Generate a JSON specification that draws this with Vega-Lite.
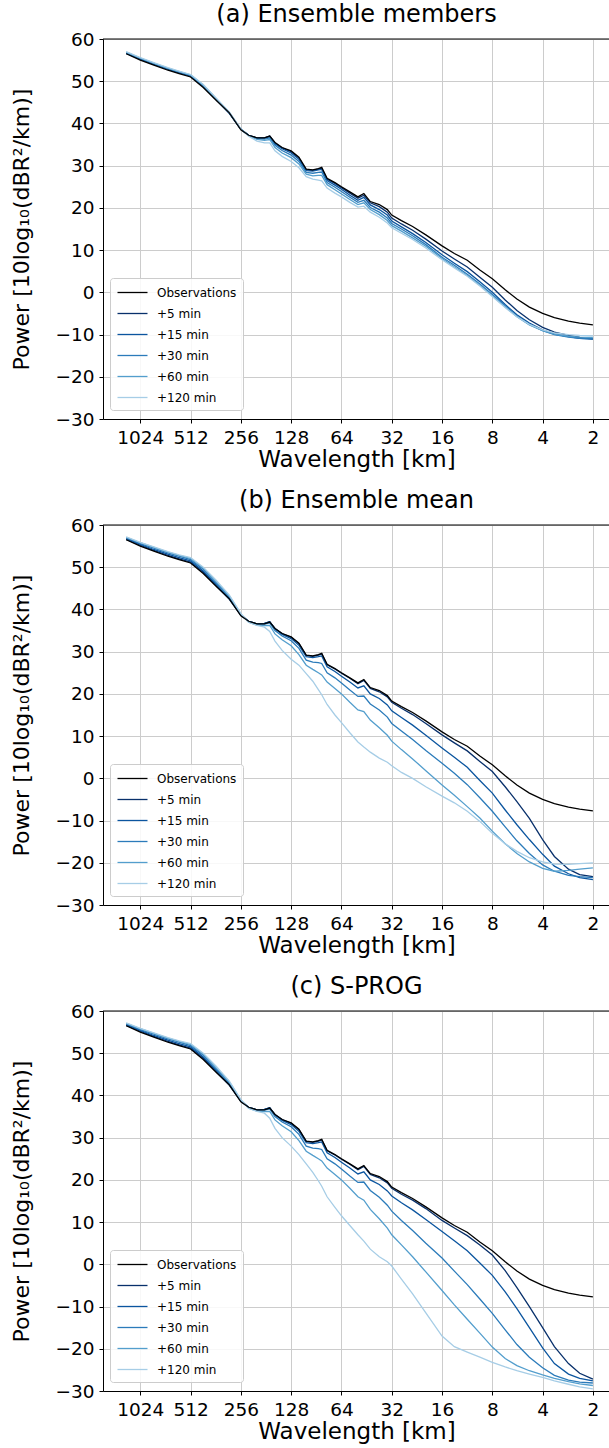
{
"$schema": "https://vega.github.io/schema/vega-lite/v6.json",
"padding": {"left": 10, "top": 3, "right": 0, "bottom": 0},
"background": "white",
"config": {
  "font": "DejaVu Sans",
  "view": {"stroke": null},
  "axis": {"labelFont": "DejaVu Sans", "titleFont": "DejaVu Sans", "labelFontSize": 18.5, "titleFontSize": 23, "titleFontWeight": "normal", "labelColor": "#000", "titleColor": "#000", "domainColor": "#000", "tickColor": "#000", "tickSize": 4, "gridColor": "#cccccc", "gridWidth": 1, "labelPadding": 5, "domainWidth": 1, "labelFlush": false, "labelOverlap": false},
  "axisY": {"titlePadding": 21, "titleFontSize": 22},
  "axisX": {"titlePadding": 2},
  "title": {"font": "DejaVu Sans", "fontSize": 24, "fontWeight": "normal", "color": "#000", "offset": 3},
  "legend": {"title": null, "orient": "none", "legendX": 7, "legendY": 239, "fillColor": "rgba(255,255,255,0.85)", "strokeColor": "#cccccc", "cornerRadius": 3, "padding": 6, "symbolType": "M-2,0H2", "symbolSize": 225, "symbolOffset": 8, "symbolStrokeWidth": 1.5, "labelFontSize": 12, "labelFont": "DejaVu Sans", "labelColor": "#000", "rowPadding": 6, "labelOffset": 16},
  "concat": {"spacing": 17},
  "line": {"strokeWidth": 1.3}
},
"resolve": {"scale": {"color": "independent"}, "legend": {"color": "independent"}},
"datasets": {
"obs": [
{"p":"o","s":"Observations","w":1243,"v":56.5},{"p":"o","s":"Observations","w":1024,"v":55.0},{"p":"o","s":"Observations","w":850,"v":53.8},{"p":"o","s":"Observations","w":700,"v":52.6},{"p":"o","s":"Observations","w":600,"v":51.8},{"p":"o","s":"Observations","w":512,"v":51.0},{"p":"o","s":"Observations","w":430,"v":48.5},{"p":"o","s":"Observations","w":360,"v":45.5},{"p":"o","s":"Observations","w":300,"v":42.5},{"p":"o","s":"Observations","w":256,"v":38.5},{"p":"o","s":"Observations","w":230,"v":37.2},{"p":"o","s":"Observations","w":205,"v":36.6},{"p":"o","s":"Observations","w":185,"v":36.6},{"p":"o","s":"Observations","w":172,"v":37.0},{"p":"o","s":"Observations","w":160,"v":35.5},{"p":"o","s":"Observations","w":145,"v":34.3},{"p":"o","s":"Observations","w":128,"v":33.5},{"p":"o","s":"Observations","w":115,"v":32.0},{"p":"o","s":"Observations","w":104,"v":29.2},{"p":"o","s":"Observations","w":95,"v":29.0},{"p":"o","s":"Observations","w":88,"v":29.3},{"p":"o","s":"Observations","w":84,"v":29.6},{"p":"o","s":"Observations","w":78,"v":27.0},{"p":"o","s":"Observations","w":70,"v":26.0},{"p":"o","s":"Observations","w":64,"v":25.0},{"p":"o","s":"Observations","w":57,"v":23.8},{"p":"o","s":"Observations","w":51,"v":22.6},{"p":"o","s":"Observations","w":47,"v":23.4},{"p":"o","s":"Observations","w":43,"v":21.5},{"p":"o","s":"Observations","w":38,"v":20.8},{"p":"o","s":"Observations","w":34,"v":19.6},{"p":"o","s":"Observations","w":32,"v":18.3},{"p":"o","s":"Observations","w":28,"v":17.0},{"p":"o","s":"Observations","w":24,"v":15.6},{"p":"o","s":"Observations","w":20,"v":13.6},{"p":"o","s":"Observations","w":16,"v":11.0},{"p":"o","s":"Observations","w":13.5,"v":9.2},{"p":"o","s":"Observations","w":11.3,"v":7.6},{"p":"o","s":"Observations","w":9.5,"v":5.3},{"p":"o","s":"Observations","w":8,"v":3.2},{"p":"o","s":"Observations","w":6.7,"v":0.6},{"p":"o","s":"Observations","w":5.7,"v":-1.6},{"p":"o","s":"Observations","w":4.8,"v":-3.5},{"p":"o","s":"Observations","w":4,"v":-5.0},{"p":"o","s":"Observations","w":3.4,"v":-6.0},{"p":"o","s":"Observations","w":2.8,"v":-6.8},{"p":"o","s":"Observations","w":2.4,"v":-7.3},{"p":"o","s":"Observations","w":2,"v":-7.7}
],
"fc": [
{"p":"a","s":"+5 min","w":1243,"v":56.6},{"p":"a","s":"+5 min","w":1024,"v":55.2},{"p":"a","s":"+5 min","w":850,"v":54.0},{"p":"a","s":"+5 min","w":700,"v":52.8},{"p":"a","s":"+5 min","w":600,"v":52.0},{"p":"a","s":"+5 min","w":512,"v":51.2},{"p":"a","s":"+5 min","w":430,"v":48.8},{"p":"a","s":"+5 min","w":360,"v":45.6},{"p":"a","s":"+5 min","w":300,"v":42.4},{"p":"a","s":"+5 min","w":256,"v":38.6},{"p":"a","s":"+5 min","w":230,"v":37.2},{"p":"a","s":"+5 min","w":205,"v":36.6},{"p":"a","s":"+5 min","w":185,"v":36.6},{"p":"a","s":"+5 min","w":172,"v":37.0},{"p":"a","s":"+5 min","w":160,"v":35.4},{"p":"a","s":"+5 min","w":145,"v":34.2},{"p":"a","s":"+5 min","w":128,"v":33.3},{"p":"a","s":"+5 min","w":115,"v":31.8},{"p":"a","s":"+5 min","w":104,"v":29.0},{"p":"a","s":"+5 min","w":95,"v":28.9},{"p":"a","s":"+5 min","w":88,"v":29.2},{"p":"a","s":"+5 min","w":84,"v":29.4},{"p":"a","s":"+5 min","w":78,"v":26.8},{"p":"a","s":"+5 min","w":70,"v":25.8},{"p":"a","s":"+5 min","w":64,"v":24.8},{"p":"a","s":"+5 min","w":57,"v":23.5},{"p":"a","s":"+5 min","w":51,"v":22.3},{"p":"a","s":"+5 min","w":47,"v":23.0},{"p":"a","s":"+5 min","w":43,"v":21.2},{"p":"a","s":"+5 min","w":38,"v":20.3},{"p":"a","s":"+5 min","w":34,"v":19.0},{"p":"a","s":"+5 min","w":32,"v":17.6},{"p":"a","s":"+5 min","w":28,"v":16.2},{"p":"a","s":"+5 min","w":24,"v":14.7},{"p":"a","s":"+5 min","w":20,"v":12.6},{"p":"a","s":"+5 min","w":16,"v":9.8},{"p":"a","s":"+5 min","w":13.5,"v":7.9},{"p":"a","s":"+5 min","w":11.3,"v":6.0},{"p":"a","s":"+5 min","w":9.5,"v":3.6},{"p":"a","s":"+5 min","w":8,"v":1.2},{"p":"a","s":"+5 min","w":6.7,"v":-1.8},{"p":"a","s":"+5 min","w":5.7,"v":-4.3},{"p":"a","s":"+5 min","w":4.8,"v":-6.5},{"p":"a","s":"+5 min","w":4,"v":-8.3},{"p":"a","s":"+5 min","w":3.4,"v":-9.4},{"p":"a","s":"+5 min","w":2.8,"v":-10.2},{"p":"a","s":"+5 min","w":2.4,"v":-10.7},{"p":"a","s":"+5 min","w":2,"v":-11.0},
{"p":"a","s":"+15 min","w":1243,"v":56.7},{"p":"a","s":"+15 min","w":1024,"v":55.3},{"p":"a","s":"+15 min","w":850,"v":54.1},{"p":"a","s":"+15 min","w":700,"v":52.9},{"p":"a","s":"+15 min","w":600,"v":52.1},{"p":"a","s":"+15 min","w":512,"v":51.3},{"p":"a","s":"+15 min","w":430,"v":48.9},{"p":"a","s":"+15 min","w":360,"v":45.7},{"p":"a","s":"+15 min","w":300,"v":42.4},{"p":"a","s":"+15 min","w":256,"v":38.6},{"p":"a","s":"+15 min","w":230,"v":37.2},{"p":"a","s":"+15 min","w":205,"v":36.5},{"p":"a","s":"+15 min","w":185,"v":36.5},{"p":"a","s":"+15 min","w":172,"v":36.9},{"p":"a","s":"+15 min","w":160,"v":35.2},{"p":"a","s":"+15 min","w":145,"v":34.0},{"p":"a","s":"+15 min","w":128,"v":33.0},{"p":"a","s":"+15 min","w":115,"v":31.5},{"p":"a","s":"+15 min","w":104,"v":28.8},{"p":"a","s":"+15 min","w":95,"v":28.7},{"p":"a","s":"+15 min","w":88,"v":29.0},{"p":"a","s":"+15 min","w":84,"v":29.1},{"p":"a","s":"+15 min","w":78,"v":26.5},{"p":"a","s":"+15 min","w":70,"v":25.4},{"p":"a","s":"+15 min","w":64,"v":24.4},{"p":"a","s":"+15 min","w":57,"v":23.0},{"p":"a","s":"+15 min","w":51,"v":21.8},{"p":"a","s":"+15 min","w":47,"v":22.5},{"p":"a","s":"+15 min","w":43,"v":20.7},{"p":"a","s":"+15 min","w":38,"v":19.6},{"p":"a","s":"+15 min","w":34,"v":18.3},{"p":"a","s":"+15 min","w":32,"v":16.9},{"p":"a","s":"+15 min","w":28,"v":15.5},{"p":"a","s":"+15 min","w":24,"v":13.9},{"p":"a","s":"+15 min","w":20,"v":11.8},{"p":"a","s":"+15 min","w":16,"v":8.9},{"p":"a","s":"+15 min","w":13.5,"v":6.9},{"p":"a","s":"+15 min","w":11.3,"v":4.9},{"p":"a","s":"+15 min","w":9.5,"v":2.5},{"p":"a","s":"+15 min","w":8,"v":0.0},{"p":"a","s":"+15 min","w":6.7,"v":-2.9},{"p":"a","s":"+15 min","w":5.7,"v":-5.3},{"p":"a","s":"+15 min","w":4.8,"v":-7.3},{"p":"a","s":"+15 min","w":4,"v":-8.9},{"p":"a","s":"+15 min","w":3.4,"v":-9.9},{"p":"a","s":"+15 min","w":2.8,"v":-10.5},{"p":"a","s":"+15 min","w":2.4,"v":-10.9},{"p":"a","s":"+15 min","w":2,"v":-11.1},
{"p":"a","s":"+30 min","w":1243,"v":56.8},{"p":"a","s":"+30 min","w":1024,"v":55.4},{"p":"a","s":"+30 min","w":850,"v":54.2},{"p":"a","s":"+30 min","w":700,"v":53.0},{"p":"a","s":"+30 min","w":600,"v":52.2},{"p":"a","s":"+30 min","w":512,"v":51.4},{"p":"a","s":"+30 min","w":430,"v":49.0},{"p":"a","s":"+30 min","w":360,"v":45.8},{"p":"a","s":"+30 min","w":300,"v":42.5},{"p":"a","s":"+30 min","w":256,"v":38.6},{"p":"a","s":"+30 min","w":230,"v":37.2},{"p":"a","s":"+30 min","w":205,"v":36.4},{"p":"a","s":"+30 min","w":185,"v":36.3},{"p":"a","s":"+30 min","w":172,"v":36.6},{"p":"a","s":"+30 min","w":160,"v":34.8},{"p":"a","s":"+30 min","w":145,"v":33.6},{"p":"a","s":"+30 min","w":128,"v":32.5},{"p":"a","s":"+30 min","w":115,"v":31.0},{"p":"a","s":"+30 min","w":104,"v":28.4},{"p":"a","s":"+30 min","w":95,"v":28.2},{"p":"a","s":"+30 min","w":88,"v":28.4},{"p":"a","s":"+30 min","w":84,"v":28.5},{"p":"a","s":"+30 min","w":78,"v":26.0},{"p":"a","s":"+30 min","w":70,"v":24.9},{"p":"a","s":"+30 min","w":64,"v":23.9},{"p":"a","s":"+30 min","w":57,"v":22.5},{"p":"a","s":"+30 min","w":51,"v":21.3},{"p":"a","s":"+30 min","w":47,"v":21.8},{"p":"a","s":"+30 min","w":43,"v":20.1},{"p":"a","s":"+30 min","w":38,"v":19.0},{"p":"a","s":"+30 min","w":34,"v":17.6},{"p":"a","s":"+30 min","w":32,"v":16.3},{"p":"a","s":"+30 min","w":28,"v":15.0},{"p":"a","s":"+30 min","w":24,"v":13.4},{"p":"a","s":"+30 min","w":20,"v":11.3},{"p":"a","s":"+30 min","w":16,"v":8.3},{"p":"a","s":"+30 min","w":13.5,"v":6.4},{"p":"a","s":"+30 min","w":11.3,"v":4.3},{"p":"a","s":"+30 min","w":9.5,"v":2.0},{"p":"a","s":"+30 min","w":8,"v":-0.5},{"p":"a","s":"+30 min","w":6.7,"v":-3.2},{"p":"a","s":"+30 min","w":5.7,"v":-5.6},{"p":"a","s":"+30 min","w":4.8,"v":-7.6},{"p":"a","s":"+30 min","w":4,"v":-9.1},{"p":"a","s":"+30 min","w":3.4,"v":-10.0},{"p":"a","s":"+30 min","w":2.8,"v":-10.6},{"p":"a","s":"+30 min","w":2.4,"v":-10.9},{"p":"a","s":"+30 min","w":2,"v":-11.0},
{"p":"a","s":"+60 min","w":1243,"v":56.9},{"p":"a","s":"+60 min","w":1024,"v":55.5},{"p":"a","s":"+60 min","w":850,"v":54.3},{"p":"a","s":"+60 min","w":700,"v":53.1},{"p":"a","s":"+60 min","w":600,"v":52.3},{"p":"a","s":"+60 min","w":512,"v":51.5},{"p":"a","s":"+60 min","w":430,"v":49.1},{"p":"a","s":"+60 min","w":360,"v":45.9},{"p":"a","s":"+60 min","w":300,"v":42.6},{"p":"a","s":"+60 min","w":256,"v":38.6},{"p":"a","s":"+60 min","w":230,"v":37.1},{"p":"a","s":"+60 min","w":205,"v":36.2},{"p":"a","s":"+60 min","w":185,"v":36.0},{"p":"a","s":"+60 min","w":172,"v":36.2},{"p":"a","s":"+60 min","w":160,"v":34.3},{"p":"a","s":"+60 min","w":145,"v":33.0},{"p":"a","s":"+60 min","w":128,"v":31.9},{"p":"a","s":"+60 min","w":115,"v":30.4},{"p":"a","s":"+60 min","w":104,"v":28.0},{"p":"a","s":"+60 min","w":95,"v":27.6},{"p":"a","s":"+60 min","w":88,"v":27.7},{"p":"a","s":"+60 min","w":84,"v":27.7},{"p":"a","s":"+60 min","w":78,"v":25.5},{"p":"a","s":"+60 min","w":70,"v":24.3},{"p":"a","s":"+60 min","w":64,"v":23.3},{"p":"a","s":"+60 min","w":57,"v":22.0},{"p":"a","s":"+60 min","w":51,"v":20.8},{"p":"a","s":"+60 min","w":47,"v":21.2},{"p":"a","s":"+60 min","w":43,"v":19.6},{"p":"a","s":"+60 min","w":38,"v":18.4},{"p":"a","s":"+60 min","w":34,"v":17.0},{"p":"a","s":"+60 min","w":32,"v":15.8},{"p":"a","s":"+60 min","w":28,"v":14.5},{"p":"a","s":"+60 min","w":24,"v":12.9},{"p":"a","s":"+60 min","w":20,"v":10.9},{"p":"a","s":"+60 min","w":16,"v":8.0},{"p":"a","s":"+60 min","w":13.5,"v":6.0},{"p":"a","s":"+60 min","w":11.3,"v":4.0},{"p":"a","s":"+60 min","w":9.5,"v":1.7},{"p":"a","s":"+60 min","w":8,"v":-0.8},{"p":"a","s":"+60 min","w":6.7,"v":-3.5},{"p":"a","s":"+60 min","w":5.7,"v":-5.8},{"p":"a","s":"+60 min","w":4.8,"v":-7.7},{"p":"a","s":"+60 min","w":4,"v":-9.1},{"p":"a","s":"+60 min","w":3.4,"v":-9.9},{"p":"a","s":"+60 min","w":2.8,"v":-10.4},{"p":"a","s":"+60 min","w":2.4,"v":-10.6},{"p":"a","s":"+60 min","w":2,"v":-10.7},
{"p":"a","s":"+120 min","w":1243,"v":57.0},{"p":"a","s":"+120 min","w":1024,"v":55.6},{"p":"a","s":"+120 min","w":850,"v":54.4},{"p":"a","s":"+120 min","w":700,"v":53.2},{"p":"a","s":"+120 min","w":600,"v":52.4},{"p":"a","s":"+120 min","w":512,"v":51.6},{"p":"a","s":"+120 min","w":430,"v":49.2},{"p":"a","s":"+120 min","w":360,"v":46.0},{"p":"a","s":"+120 min","w":300,"v":42.7},{"p":"a","s":"+120 min","w":256,"v":38.7},{"p":"a","s":"+120 min","w":230,"v":37.0},{"p":"a","s":"+120 min","w":205,"v":35.8},{"p":"a","s":"+120 min","w":185,"v":35.4},{"p":"a","s":"+120 min","w":172,"v":35.4},{"p":"a","s":"+120 min","w":160,"v":33.5},{"p":"a","s":"+120 min","w":145,"v":32.2},{"p":"a","s":"+120 min","w":128,"v":31.0},{"p":"a","s":"+120 min","w":115,"v":29.5},{"p":"a","s":"+120 min","w":104,"v":27.4},{"p":"a","s":"+120 min","w":95,"v":26.8},{"p":"a","s":"+120 min","w":88,"v":26.6},{"p":"a","s":"+120 min","w":84,"v":26.4},{"p":"a","s":"+120 min","w":78,"v":24.7},{"p":"a","s":"+120 min","w":70,"v":23.5},{"p":"a","s":"+120 min","w":64,"v":22.6},{"p":"a","s":"+120 min","w":57,"v":21.3},{"p":"a","s":"+120 min","w":51,"v":20.2},{"p":"a","s":"+120 min","w":47,"v":20.4},{"p":"a","s":"+120 min","w":43,"v":19.0},{"p":"a","s":"+120 min","w":38,"v":17.8},{"p":"a","s":"+120 min","w":34,"v":16.4},{"p":"a","s":"+120 min","w":32,"v":15.3},{"p":"a","s":"+120 min","w":28,"v":14.0},{"p":"a","s":"+120 min","w":24,"v":12.5},{"p":"a","s":"+120 min","w":20,"v":10.5},{"p":"a","s":"+120 min","w":16,"v":7.7},{"p":"a","s":"+120 min","w":13.5,"v":5.8},{"p":"a","s":"+120 min","w":11.3,"v":3.8},{"p":"a","s":"+120 min","w":9.5,"v":1.5},{"p":"a","s":"+120 min","w":8,"v":-1.0},{"p":"a","s":"+120 min","w":6.7,"v":-3.6},{"p":"a","s":"+120 min","w":5.7,"v":-5.8},{"p":"a","s":"+120 min","w":4.8,"v":-7.6},{"p":"a","s":"+120 min","w":4,"v":-8.9},{"p":"a","s":"+120 min","w":3.4,"v":-9.6},{"p":"a","s":"+120 min","w":2.8,"v":-10.0},{"p":"a","s":"+120 min","w":2.4,"v":-10.2},{"p":"a","s":"+120 min","w":2,"v":-10.3},
{"p":"b","s":"+5 min","w":1243,"v":56.6},{"p":"b","s":"+5 min","w":1024,"v":55.2},{"p":"b","s":"+5 min","w":850,"v":54.0},{"p":"b","s":"+5 min","w":700,"v":52.8},{"p":"b","s":"+5 min","w":600,"v":52.0},{"p":"b","s":"+5 min","w":512,"v":51.2},{"p":"b","s":"+5 min","w":430,"v":48.8},{"p":"b","s":"+5 min","w":360,"v":45.6},{"p":"b","s":"+5 min","w":300,"v":42.4},{"p":"b","s":"+5 min","w":256,"v":38.6},{"p":"b","s":"+5 min","w":230,"v":37.2},{"p":"b","s":"+5 min","w":205,"v":36.6},{"p":"b","s":"+5 min","w":185,"v":36.7},{"p":"b","s":"+5 min","w":172,"v":37.1},{"p":"b","s":"+5 min","w":160,"v":35.5},{"p":"b","s":"+5 min","w":145,"v":34.3},{"p":"b","s":"+5 min","w":128,"v":33.4},{"p":"b","s":"+5 min","w":115,"v":31.9},{"p":"b","s":"+5 min","w":104,"v":29.1},{"p":"b","s":"+5 min","w":95,"v":28.9},{"p":"b","s":"+5 min","w":88,"v":29.2},{"p":"b","s":"+5 min","w":84,"v":29.5},{"p":"b","s":"+5 min","w":78,"v":26.9},{"p":"b","s":"+5 min","w":70,"v":25.9},{"p":"b","s":"+5 min","w":64,"v":24.9},{"p":"b","s":"+5 min","w":57,"v":23.7},{"p":"b","s":"+5 min","w":51,"v":22.4},{"p":"b","s":"+5 min","w":47,"v":23.2},{"p":"b","s":"+5 min","w":43,"v":21.3},{"p":"b","s":"+5 min","w":38,"v":20.5},{"p":"b","s":"+5 min","w":34,"v":19.3},{"p":"b","s":"+5 min","w":32,"v":18.0},{"p":"b","s":"+5 min","w":28,"v":16.6},{"p":"b","s":"+5 min","w":24,"v":15.1},{"p":"b","s":"+5 min","w":20,"v":13.0},{"p":"b","s":"+5 min","w":16,"v":10.3},{"p":"b","s":"+5 min","w":13.5,"v":8.4},{"p":"b","s":"+5 min","w":11.3,"v":6.5},{"p":"b","s":"+5 min","w":9.5,"v":4.0},{"p":"b","s":"+5 min","w":8,"v":1.6},{"p":"b","s":"+5 min","w":6.7,"v":-2.0},{"p":"b","s":"+5 min","w":5.7,"v":-5.5},{"p":"b","s":"+5 min","w":4.8,"v":-9.5},{"p":"b","s":"+5 min","w":4,"v":-14.5},{"p":"b","s":"+5 min","w":3.4,"v":-18.5},{"p":"b","s":"+5 min","w":2.8,"v":-21.5},{"p":"b","s":"+5 min","w":2.4,"v":-22.8},{"p":"b","s":"+5 min","w":2,"v":-23.3},
{"p":"b","s":"+15 min","w":1243,"v":56.8},{"p":"b","s":"+15 min","w":1024,"v":55.4},{"p":"b","s":"+15 min","w":850,"v":54.2},{"p":"b","s":"+15 min","w":700,"v":53.1},{"p":"b","s":"+15 min","w":600,"v":52.3},{"p":"b","s":"+15 min","w":512,"v":51.5},{"p":"b","s":"+15 min","w":430,"v":49.1},{"p":"b","s":"+15 min","w":360,"v":45.9},{"p":"b","s":"+15 min","w":300,"v":42.6},{"p":"b","s":"+15 min","w":256,"v":38.7},{"p":"b","s":"+15 min","w":230,"v":37.2},{"p":"b","s":"+15 min","w":205,"v":36.6},{"p":"b","s":"+15 min","w":185,"v":36.7},{"p":"b","s":"+15 min","w":172,"v":37.1},{"p":"b","s":"+15 min","w":160,"v":35.4},{"p":"b","s":"+15 min","w":145,"v":34.1},{"p":"b","s":"+15 min","w":128,"v":33.1},{"p":"b","s":"+15 min","w":115,"v":31.5},{"p":"b","s":"+15 min","w":104,"v":28.8},{"p":"b","s":"+15 min","w":95,"v":28.6},{"p":"b","s":"+15 min","w":88,"v":28.8},{"p":"b","s":"+15 min","w":84,"v":29.0},{"p":"b","s":"+15 min","w":78,"v":26.4},{"p":"b","s":"+15 min","w":70,"v":25.3},{"p":"b","s":"+15 min","w":64,"v":24.2},{"p":"b","s":"+15 min","w":57,"v":22.8},{"p":"b","s":"+15 min","w":51,"v":21.4},{"p":"b","s":"+15 min","w":47,"v":21.9},{"p":"b","s":"+15 min","w":43,"v":20.0},{"p":"b","s":"+15 min","w":38,"v":18.9},{"p":"b","s":"+15 min","w":34,"v":17.4},{"p":"b","s":"+15 min","w":32,"v":16.0},{"p":"b","s":"+15 min","w":28,"v":14.4},{"p":"b","s":"+15 min","w":24,"v":12.6},{"p":"b","s":"+15 min","w":20,"v":10.2},{"p":"b","s":"+15 min","w":16,"v":7.2},{"p":"b","s":"+15 min","w":13.5,"v":5.0},{"p":"b","s":"+15 min","w":11.3,"v":2.6},{"p":"b","s":"+15 min","w":9.5,"v":-0.5},{"p":"b","s":"+15 min","w":8,"v":-3.5},{"p":"b","s":"+15 min","w":6.7,"v":-7.5},{"p":"b","s":"+15 min","w":5.7,"v":-11.0},{"p":"b","s":"+15 min","w":4.8,"v":-14.5},{"p":"b","s":"+15 min","w":4,"v":-18.0},{"p":"b","s":"+15 min","w":3.4,"v":-20.8},{"p":"b","s":"+15 min","w":2.8,"v":-22.6},{"p":"b","s":"+15 min","w":2.4,"v":-23.5},{"p":"b","s":"+15 min","w":2,"v":-24.0},
{"p":"b","s":"+30 min","w":1243,"v":57.0},{"p":"b","s":"+30 min","w":1024,"v":55.6},{"p":"b","s":"+30 min","w":850,"v":54.5},{"p":"b","s":"+30 min","w":700,"v":53.4},{"p":"b","s":"+30 min","w":600,"v":52.6},{"p":"b","s":"+30 min","w":512,"v":51.8},{"p":"b","s":"+30 min","w":430,"v":49.5},{"p":"b","s":"+30 min","w":360,"v":46.3},{"p":"b","s":"+30 min","w":300,"v":42.9},{"p":"b","s":"+30 min","w":256,"v":38.8},{"p":"b","s":"+30 min","w":230,"v":37.1},{"p":"b","s":"+30 min","w":205,"v":36.5},{"p":"b","s":"+30 min","w":185,"v":36.5},{"p":"b","s":"+30 min","w":172,"v":36.8},{"p":"b","s":"+30 min","w":160,"v":35.0},{"p":"b","s":"+30 min","w":145,"v":33.7},{"p":"b","s":"+30 min","w":128,"v":32.6},{"p":"b","s":"+30 min","w":115,"v":30.8},{"p":"b","s":"+30 min","w":104,"v":28.0},{"p":"b","s":"+30 min","w":95,"v":27.5},{"p":"b","s":"+30 min","w":88,"v":27.4},{"p":"b","s":"+30 min","w":84,"v":27.2},{"p":"b","s":"+30 min","w":78,"v":25.0},{"p":"b","s":"+30 min","w":70,"v":23.8},{"p":"b","s":"+30 min","w":64,"v":22.6},{"p":"b","s":"+30 min","w":57,"v":20.9},{"p":"b","s":"+30 min","w":51,"v":19.4},{"p":"b","s":"+30 min","w":47,"v":19.5},{"p":"b","s":"+30 min","w":43,"v":17.6},{"p":"b","s":"+30 min","w":38,"v":16.2},{"p":"b","s":"+30 min","w":34,"v":14.5},{"p":"b","s":"+30 min","w":32,"v":13.0},{"p":"b","s":"+30 min","w":28,"v":11.2},{"p":"b","s":"+30 min","w":24,"v":9.2},{"p":"b","s":"+30 min","w":20,"v":6.6},{"p":"b","s":"+30 min","w":16,"v":3.6},{"p":"b","s":"+30 min","w":13.5,"v":1.2},{"p":"b","s":"+30 min","w":11.3,"v":-1.5},{"p":"b","s":"+30 min","w":9.5,"v":-4.6},{"p":"b","s":"+30 min","w":8,"v":-7.8},{"p":"b","s":"+30 min","w":6.7,"v":-11.5},{"p":"b","s":"+30 min","w":5.7,"v":-14.8},{"p":"b","s":"+30 min","w":4.8,"v":-17.8},{"p":"b","s":"+30 min","w":4,"v":-20.5},{"p":"b","s":"+30 min","w":3.4,"v":-22.0},{"p":"b","s":"+30 min","w":2.8,"v":-23.0},{"p":"b","s":"+30 min","w":2.4,"v":-23.3},{"p":"b","s":"+30 min","w":2,"v":-23.5},
{"p":"b","s":"+60 min","w":1243,"v":57.1},{"p":"b","s":"+60 min","w":1024,"v":55.8},{"p":"b","s":"+60 min","w":850,"v":54.7},{"p":"b","s":"+60 min","w":700,"v":53.6},{"p":"b","s":"+60 min","w":600,"v":52.8},{"p":"b","s":"+60 min","w":512,"v":52.1},{"p":"b","s":"+60 min","w":430,"v":49.8},{"p":"b","s":"+60 min","w":360,"v":46.6},{"p":"b","s":"+60 min","w":300,"v":43.2},{"p":"b","s":"+60 min","w":256,"v":38.9},{"p":"b","s":"+60 min","w":230,"v":37.0},{"p":"b","s":"+60 min","w":205,"v":36.3},{"p":"b","s":"+60 min","w":185,"v":36.2},{"p":"b","s":"+60 min","w":172,"v":36.2},{"p":"b","s":"+60 min","w":160,"v":34.2},{"p":"b","s":"+60 min","w":145,"v":32.8},{"p":"b","s":"+60 min","w":128,"v":31.4},{"p":"b","s":"+60 min","w":115,"v":29.3},{"p":"b","s":"+60 min","w":104,"v":26.8},{"p":"b","s":"+60 min","w":95,"v":25.8},{"p":"b","s":"+60 min","w":88,"v":25.0},{"p":"b","s":"+60 min","w":84,"v":24.5},{"p":"b","s":"+60 min","w":78,"v":22.8},{"p":"b","s":"+60 min","w":70,"v":21.3},{"p":"b","s":"+60 min","w":64,"v":20.0},{"p":"b","s":"+60 min","w":57,"v":18.0},{"p":"b","s":"+60 min","w":51,"v":16.2},{"p":"b","s":"+60 min","w":47,"v":15.8},{"p":"b","s":"+60 min","w":43,"v":13.8},{"p":"b","s":"+60 min","w":38,"v":12.0},{"p":"b","s":"+60 min","w":34,"v":10.2},{"p":"b","s":"+60 min","w":32,"v":8.8},{"p":"b","s":"+60 min","w":28,"v":6.8},{"p":"b","s":"+60 min","w":24,"v":4.6},{"p":"b","s":"+60 min","w":20,"v":1.8},{"p":"b","s":"+60 min","w":16,"v":-1.6},{"p":"b","s":"+60 min","w":13.5,"v":-4.0},{"p":"b","s":"+60 min","w":11.3,"v":-6.7},{"p":"b","s":"+60 min","w":9.5,"v":-9.4},{"p":"b","s":"+60 min","w":8,"v":-12.5},{"p":"b","s":"+60 min","w":6.7,"v":-15.5},{"p":"b","s":"+60 min","w":5.7,"v":-17.8},{"p":"b","s":"+60 min","w":4.8,"v":-19.8},{"p":"b","s":"+60 min","w":4,"v":-21.3},{"p":"b","s":"+60 min","w":3.4,"v":-22.0},{"p":"b","s":"+60 min","w":2.8,"v":-21.8},{"p":"b","s":"+60 min","w":2.4,"v":-21.5},{"p":"b","s":"+60 min","w":2,"v":-21.2},
{"p":"b","s":"+120 min","w":1243,"v":57.2},{"p":"b","s":"+120 min","w":1024,"v":55.9},{"p":"b","s":"+120 min","w":850,"v":54.8},{"p":"b","s":"+120 min","w":700,"v":53.7},{"p":"b","s":"+120 min","w":600,"v":52.9},{"p":"b","s":"+120 min","w":512,"v":52.3},{"p":"b","s":"+120 min","w":430,"v":50.0},{"p":"b","s":"+120 min","w":360,"v":46.9},{"p":"b","s":"+120 min","w":300,"v":43.4},{"p":"b","s":"+120 min","w":256,"v":39.0},{"p":"b","s":"+120 min","w":230,"v":37.0},{"p":"b","s":"+120 min","w":205,"v":36.2},{"p":"b","s":"+120 min","w":185,"v":35.8},{"p":"b","s":"+120 min","w":172,"v":34.8},{"p":"b","s":"+120 min","w":160,"v":32.5},{"p":"b","s":"+120 min","w":145,"v":30.3},{"p":"b","s":"+120 min","w":128,"v":28.2},{"p":"b","s":"+120 min","w":115,"v":26.8},{"p":"b","s":"+120 min","w":104,"v":24.8},{"p":"b","s":"+120 min","w":95,"v":23.0},{"p":"b","s":"+120 min","w":88,"v":21.0},{"p":"b","s":"+120 min","w":84,"v":19.8},{"p":"b","s":"+120 min","w":78,"v":17.5},{"p":"b","s":"+120 min","w":70,"v":15.0},{"p":"b","s":"+120 min","w":64,"v":13.2},{"p":"b","s":"+120 min","w":57,"v":10.8},{"p":"b","s":"+120 min","w":51,"v":8.6},{"p":"b","s":"+120 min","w":47,"v":7.4},{"p":"b","s":"+120 min","w":43,"v":6.2},{"p":"b","s":"+120 min","w":38,"v":4.8},{"p":"b","s":"+120 min","w":34,"v":3.8},{"p":"b","s":"+120 min","w":32,"v":3.0},{"p":"b","s":"+120 min","w":28,"v":1.4},{"p":"b","s":"+120 min","w":24,"v":0.0},{"p":"b","s":"+120 min","w":20,"v":-2.0},{"p":"b","s":"+120 min","w":16,"v":-4.2},{"p":"b","s":"+120 min","w":13.5,"v":-5.8},{"p":"b","s":"+120 min","w":11.3,"v":-7.8},{"p":"b","s":"+120 min","w":9.5,"v":-10.2},{"p":"b","s":"+120 min","w":8,"v":-13.0},{"p":"b","s":"+120 min","w":6.7,"v":-15.5},{"p":"b","s":"+120 min","w":5.7,"v":-17.3},{"p":"b","s":"+120 min","w":4.8,"v":-18.8},{"p":"b","s":"+120 min","w":4,"v":-19.8},{"p":"b","s":"+120 min","w":3.4,"v":-20.3},{"p":"b","s":"+120 min","w":2.8,"v":-20.4},{"p":"b","s":"+120 min","w":2.4,"v":-20.2},{"p":"b","s":"+120 min","w":2,"v":-20.0},
{"p":"c","s":"+5 min","w":1243,"v":56.6},{"p":"c","s":"+5 min","w":1024,"v":55.2},{"p":"c","s":"+5 min","w":850,"v":54.0},{"p":"c","s":"+5 min","w":700,"v":52.8},{"p":"c","s":"+5 min","w":600,"v":52.0},{"p":"c","s":"+5 min","w":512,"v":51.2},{"p":"c","s":"+5 min","w":430,"v":48.8},{"p":"c","s":"+5 min","w":360,"v":45.6},{"p":"c","s":"+5 min","w":300,"v":42.4},{"p":"c","s":"+5 min","w":256,"v":38.6},{"p":"c","s":"+5 min","w":230,"v":37.2},{"p":"c","s":"+5 min","w":205,"v":36.6},{"p":"c","s":"+5 min","w":185,"v":36.7},{"p":"c","s":"+5 min","w":172,"v":37.1},{"p":"c","s":"+5 min","w":160,"v":35.5},{"p":"c","s":"+5 min","w":145,"v":34.3},{"p":"c","s":"+5 min","w":128,"v":33.4},{"p":"c","s":"+5 min","w":115,"v":31.9},{"p":"c","s":"+5 min","w":104,"v":29.1},{"p":"c","s":"+5 min","w":95,"v":28.9},{"p":"c","s":"+5 min","w":88,"v":29.2},{"p":"c","s":"+5 min","w":84,"v":29.5},{"p":"c","s":"+5 min","w":78,"v":26.9},{"p":"c","s":"+5 min","w":70,"v":25.9},{"p":"c","s":"+5 min","w":64,"v":24.9},{"p":"c","s":"+5 min","w":57,"v":23.7},{"p":"c","s":"+5 min","w":51,"v":22.4},{"p":"c","s":"+5 min","w":47,"v":23.2},{"p":"c","s":"+5 min","w":43,"v":21.3},{"p":"c","s":"+5 min","w":38,"v":20.5},{"p":"c","s":"+5 min","w":34,"v":19.3},{"p":"c","s":"+5 min","w":32,"v":18.0},{"p":"c","s":"+5 min","w":28,"v":16.6},{"p":"c","s":"+5 min","w":24,"v":15.2},{"p":"c","s":"+5 min","w":20,"v":13.2},{"p":"c","s":"+5 min","w":16,"v":10.4},{"p":"c","s":"+5 min","w":13.5,"v":8.6},{"p":"c","s":"+5 min","w":11.3,"v":6.8},{"p":"c","s":"+5 min","w":9.5,"v":4.6},{"p":"c","s":"+5 min","w":8,"v":2.2},{"p":"c","s":"+5 min","w":6.7,"v":-1.5},{"p":"c","s":"+5 min","w":5.7,"v":-5.5},{"p":"c","s":"+5 min","w":4.8,"v":-10.0},{"p":"c","s":"+5 min","w":4,"v":-15.0},{"p":"c","s":"+5 min","w":3.4,"v":-19.5},{"p":"c","s":"+5 min","w":2.8,"v":-23.5},{"p":"c","s":"+5 min","w":2.4,"v":-25.8},{"p":"c","s":"+5 min","w":2,"v":-27.2},
{"p":"c","s":"+15 min","w":1243,"v":56.8},{"p":"c","s":"+15 min","w":1024,"v":55.4},{"p":"c","s":"+15 min","w":850,"v":54.2},{"p":"c","s":"+15 min","w":700,"v":53.1},{"p":"c","s":"+15 min","w":600,"v":52.3},{"p":"c","s":"+15 min","w":512,"v":51.5},{"p":"c","s":"+15 min","w":430,"v":49.1},{"p":"c","s":"+15 min","w":360,"v":45.9},{"p":"c","s":"+15 min","w":300,"v":42.6},{"p":"c","s":"+15 min","w":256,"v":38.7},{"p":"c","s":"+15 min","w":230,"v":37.2},{"p":"c","s":"+15 min","w":205,"v":36.6},{"p":"c","s":"+15 min","w":185,"v":36.7},{"p":"c","s":"+15 min","w":172,"v":37.1},{"p":"c","s":"+15 min","w":160,"v":35.4},{"p":"c","s":"+15 min","w":145,"v":34.1},{"p":"c","s":"+15 min","w":128,"v":33.1},{"p":"c","s":"+15 min","w":115,"v":31.5},{"p":"c","s":"+15 min","w":104,"v":28.8},{"p":"c","s":"+15 min","w":95,"v":28.6},{"p":"c","s":"+15 min","w":88,"v":28.8},{"p":"c","s":"+15 min","w":84,"v":29.0},{"p":"c","s":"+15 min","w":78,"v":26.4},{"p":"c","s":"+15 min","w":70,"v":25.3},{"p":"c","s":"+15 min","w":64,"v":24.2},{"p":"c","s":"+15 min","w":57,"v":22.8},{"p":"c","s":"+15 min","w":51,"v":21.4},{"p":"c","s":"+15 min","w":47,"v":21.9},{"p":"c","s":"+15 min","w":43,"v":20.0},{"p":"c","s":"+15 min","w":38,"v":18.9},{"p":"c","s":"+15 min","w":34,"v":17.4},{"p":"c","s":"+15 min","w":32,"v":16.2},{"p":"c","s":"+15 min","w":28,"v":14.6},{"p":"c","s":"+15 min","w":24,"v":12.9},{"p":"c","s":"+15 min","w":20,"v":10.6},{"p":"c","s":"+15 min","w":16,"v":7.8},{"p":"c","s":"+15 min","w":13.5,"v":5.6},{"p":"c","s":"+15 min","w":11.3,"v":3.2},{"p":"c","s":"+15 min","w":9.5,"v":0.3},{"p":"c","s":"+15 min","w":8,"v":-2.6},{"p":"c","s":"+15 min","w":6.7,"v":-6.5},{"p":"c","s":"+15 min","w":5.7,"v":-10.5},{"p":"c","s":"+15 min","w":4.8,"v":-15.0},{"p":"c","s":"+15 min","w":4,"v":-19.8},{"p":"c","s":"+15 min","w":3.4,"v":-23.5},{"p":"c","s":"+15 min","w":2.8,"v":-26.0},{"p":"c","s":"+15 min","w":2.4,"v":-27.0},{"p":"c","s":"+15 min","w":2,"v":-27.6},
{"p":"c","s":"+30 min","w":1243,"v":57.0},{"p":"c","s":"+30 min","w":1024,"v":55.6},{"p":"c","s":"+30 min","w":850,"v":54.5},{"p":"c","s":"+30 min","w":700,"v":53.4},{"p":"c","s":"+30 min","w":600,"v":52.6},{"p":"c","s":"+30 min","w":512,"v":51.8},{"p":"c","s":"+30 min","w":430,"v":49.5},{"p":"c","s":"+30 min","w":360,"v":46.3},{"p":"c","s":"+30 min","w":300,"v":42.9},{"p":"c","s":"+30 min","w":256,"v":38.8},{"p":"c","s":"+30 min","w":230,"v":37.1},{"p":"c","s":"+30 min","w":205,"v":36.5},{"p":"c","s":"+30 min","w":185,"v":36.5},{"p":"c","s":"+30 min","w":172,"v":36.8},{"p":"c","s":"+30 min","w":160,"v":35.0},{"p":"c","s":"+30 min","w":145,"v":33.7},{"p":"c","s":"+30 min","w":128,"v":32.6},{"p":"c","s":"+30 min","w":115,"v":30.8},{"p":"c","s":"+30 min","w":104,"v":28.0},{"p":"c","s":"+30 min","w":95,"v":27.5},{"p":"c","s":"+30 min","w":88,"v":27.4},{"p":"c","s":"+30 min","w":84,"v":27.2},{"p":"c","s":"+30 min","w":78,"v":25.0},{"p":"c","s":"+30 min","w":70,"v":23.8},{"p":"c","s":"+30 min","w":64,"v":22.6},{"p":"c","s":"+30 min","w":57,"v":20.9},{"p":"c","s":"+30 min","w":51,"v":19.4},{"p":"c","s":"+30 min","w":47,"v":19.5},{"p":"c","s":"+30 min","w":43,"v":17.5},{"p":"c","s":"+30 min","w":38,"v":15.9},{"p":"c","s":"+30 min","w":34,"v":14.0},{"p":"c","s":"+30 min","w":32,"v":12.6},{"p":"c","s":"+30 min","w":28,"v":10.4},{"p":"c","s":"+30 min","w":24,"v":8.0},{"p":"c","s":"+30 min","w":20,"v":5.0},{"p":"c","s":"+30 min","w":16,"v":1.5},{"p":"c","s":"+30 min","w":13.5,"v":-1.6},{"p":"c","s":"+30 min","w":11.3,"v":-4.8},{"p":"c","s":"+30 min","w":9.5,"v":-8.2},{"p":"c","s":"+30 min","w":8,"v":-11.6},{"p":"c","s":"+30 min","w":6.7,"v":-15.5},{"p":"c","s":"+30 min","w":5.7,"v":-19.0},{"p":"c","s":"+30 min","w":4.8,"v":-22.0},{"p":"c","s":"+30 min","w":4,"v":-24.5},{"p":"c","s":"+30 min","w":3.4,"v":-26.3},{"p":"c","s":"+30 min","w":2.8,"v":-27.4},{"p":"c","s":"+30 min","w":2.4,"v":-27.9},{"p":"c","s":"+30 min","w":2,"v":-28.1},
{"p":"c","s":"+60 min","w":1243,"v":57.1},{"p":"c","s":"+60 min","w":1024,"v":55.8},{"p":"c","s":"+60 min","w":850,"v":54.7},{"p":"c","s":"+60 min","w":700,"v":53.6},{"p":"c","s":"+60 min","w":600,"v":52.8},{"p":"c","s":"+60 min","w":512,"v":52.1},{"p":"c","s":"+60 min","w":430,"v":49.8},{"p":"c","s":"+60 min","w":360,"v":46.6},{"p":"c","s":"+60 min","w":300,"v":43.2},{"p":"c","s":"+60 min","w":256,"v":38.9},{"p":"c","s":"+60 min","w":230,"v":37.0},{"p":"c","s":"+60 min","w":205,"v":36.3},{"p":"c","s":"+60 min","w":185,"v":36.2},{"p":"c","s":"+60 min","w":172,"v":36.2},{"p":"c","s":"+60 min","w":160,"v":34.2},{"p":"c","s":"+60 min","w":145,"v":32.8},{"p":"c","s":"+60 min","w":128,"v":31.4},{"p":"c","s":"+60 min","w":115,"v":29.3},{"p":"c","s":"+60 min","w":104,"v":26.8},{"p":"c","s":"+60 min","w":95,"v":25.8},{"p":"c","s":"+60 min","w":88,"v":25.0},{"p":"c","s":"+60 min","w":84,"v":24.5},{"p":"c","s":"+60 min","w":78,"v":22.8},{"p":"c","s":"+60 min","w":70,"v":21.3},{"p":"c","s":"+60 min","w":64,"v":20.0},{"p":"c","s":"+60 min","w":57,"v":18.0},{"p":"c","s":"+60 min","w":51,"v":16.0},{"p":"c","s":"+60 min","w":47,"v":15.2},{"p":"c","s":"+60 min","w":43,"v":13.0},{"p":"c","s":"+60 min","w":38,"v":10.8},{"p":"c","s":"+60 min","w":34,"v":8.6},{"p":"c","s":"+60 min","w":32,"v":7.0},{"p":"c","s":"+60 min","w":28,"v":4.6},{"p":"c","s":"+60 min","w":24,"v":1.8},{"p":"c","s":"+60 min","w":20,"v":-1.8},{"p":"c","s":"+60 min","w":16,"v":-6.2},{"p":"c","s":"+60 min","w":13.5,"v":-9.6},{"p":"c","s":"+60 min","w":11.3,"v":-13.0},{"p":"c","s":"+60 min","w":9.5,"v":-16.3},{"p":"c","s":"+60 min","w":8,"v":-19.6},{"p":"c","s":"+60 min","w":6.7,"v":-22.3},{"p":"c","s":"+60 min","w":5.7,"v":-24.0},{"p":"c","s":"+60 min","w":4.8,"v":-25.2},{"p":"c","s":"+60 min","w":4,"v":-26.2},{"p":"c","s":"+60 min","w":3.4,"v":-27.0},{"p":"c","s":"+60 min","w":2.8,"v":-27.8},{"p":"c","s":"+60 min","w":2.4,"v":-28.3},{"p":"c","s":"+60 min","w":2,"v":-28.7},
{"p":"c","s":"+120 min","w":1243,"v":57.2},{"p":"c","s":"+120 min","w":1024,"v":55.9},{"p":"c","s":"+120 min","w":850,"v":54.8},{"p":"c","s":"+120 min","w":700,"v":53.7},{"p":"c","s":"+120 min","w":600,"v":52.9},{"p":"c","s":"+120 min","w":512,"v":52.3},{"p":"c","s":"+120 min","w":430,"v":50.0},{"p":"c","s":"+120 min","w":360,"v":46.9},{"p":"c","s":"+120 min","w":300,"v":43.4},{"p":"c","s":"+120 min","w":256,"v":39.0},{"p":"c","s":"+120 min","w":230,"v":37.0},{"p":"c","s":"+120 min","w":205,"v":36.2},{"p":"c","s":"+120 min","w":185,"v":35.8},{"p":"c","s":"+120 min","w":172,"v":34.6},{"p":"c","s":"+120 min","w":160,"v":32.2},{"p":"c","s":"+120 min","w":145,"v":30.0},{"p":"c","s":"+120 min","w":128,"v":28.0},{"p":"c","s":"+120 min","w":115,"v":26.0},{"p":"c","s":"+120 min","w":104,"v":23.8},{"p":"c","s":"+120 min","w":95,"v":21.8},{"p":"c","s":"+120 min","w":88,"v":19.8},{"p":"c","s":"+120 min","w":84,"v":18.5},{"p":"c","s":"+120 min","w":78,"v":16.0},{"p":"c","s":"+120 min","w":70,"v":13.5},{"p":"c","s":"+120 min","w":64,"v":11.5},{"p":"c","s":"+120 min","w":57,"v":9.2},{"p":"c","s":"+120 min","w":51,"v":7.0},{"p":"c","s":"+120 min","w":47,"v":5.5},{"p":"c","s":"+120 min","w":43,"v":3.6},{"p":"c","s":"+120 min","w":38,"v":1.8},{"p":"c","s":"+120 min","w":34,"v":0.6},{"p":"c","s":"+120 min","w":32,"v":-0.4},{"p":"c","s":"+120 min","w":28,"v":-3.5},{"p":"c","s":"+120 min","w":24,"v":-7.0},{"p":"c","s":"+120 min","w":20,"v":-11.5},{"p":"c","s":"+120 min","w":16,"v":-17.0},{"p":"c","s":"+120 min","w":13.5,"v":-19.5},{"p":"c","s":"+120 min","w":11.3,"v":-20.8},{"p":"c","s":"+120 min","w":9.5,"v":-22.0},{"p":"c","s":"+120 min","w":8,"v":-23.2},{"p":"c","s":"+120 min","w":6.7,"v":-24.3},{"p":"c","s":"+120 min","w":5.7,"v":-25.2},{"p":"c","s":"+120 min","w":4.8,"v":-26.0},{"p":"c","s":"+120 min","w":4,"v":-26.8},{"p":"c","s":"+120 min","w":3.4,"v":-27.6},{"p":"c","s":"+120 min","w":2.8,"v":-28.4},{"p":"c","s":"+120 min","w":2.4,"v":-29.0},{"p":"c","s":"+120 min","w":2,"v":-29.5}
]
},
"vconcat": [
 {
  "title": "(a) Ensemble members",
  "width": 507, "height": 380,
  "layer": [
   {"data": {"name": "fc"}, "transform": [{"filter": "datum.p == 'a'"}], "mark": "line",
    "encoding": {
     "x": {"field": "w", "type": "quantitative", "scale": {"type": "log", "base": 2, "domain": [1.58, 1712], "nice": false, "reverse": true}, "axis": {"values": [1024,512,256,128,64,32,16,8,4,2], "format": "d", "title": "Wavelength [km]"}},
     "y": {"field": "v", "type": "quantitative", "scale": {"domain": [-30, 60], "nice": false}, "axis": {"values": [-30,-20,-10,0,10,20,30,40,50,60], "title": "Power [10log₁₀(dBR²/km)]"}},
     "color": {"field": "s", "type": "nominal", "scale": {"domain": ["Observations","+5 min","+15 min","+30 min","+60 min","+120 min"], "range": ["#000000","#08306b","#0b559f","#2b7bba","#539ecd","#a6cde6"]}}
    }},
   {"data": {"name": "obs"}, "mark": "line",
    "encoding": {"x": {"field": "w", "type": "quantitative"}, "y": {"field": "v", "type": "quantitative"}, "color": {"field": "s", "type": "nominal"}}},
   {"data": {"values": [{}]}, "mark": {"type": "rule", "color": "#000", "strokeWidth": 1}, "encoding": {"y": {"datum": 60, "type": "quantitative"}}}
  ]
 },
 {
  "title": "(b) Ensemble mean",
  "width": 507, "height": 380,
  "layer": [
   {"data": {"name": "fc"}, "transform": [{"filter": "datum.p == 'b'"}], "mark": "line",
    "encoding": {
     "x": {"field": "w", "type": "quantitative", "scale": {"type": "log", "base": 2, "domain": [1.58, 1712], "nice": false, "reverse": true}, "axis": {"values": [1024,512,256,128,64,32,16,8,4,2], "format": "d", "title": "Wavelength [km]"}},
     "y": {"field": "v", "type": "quantitative", "scale": {"domain": [-30, 60], "nice": false}, "axis": {"values": [-30,-20,-10,0,10,20,30,40,50,60], "title": "Power [10log₁₀(dBR²/km)]"}},
     "color": {"field": "s", "type": "nominal", "scale": {"domain": ["Observations","+5 min","+15 min","+30 min","+60 min","+120 min"], "range": ["#000000","#08306b","#0b559f","#2b7bba","#539ecd","#a6cde6"]}}
    }},
   {"data": {"name": "obs"}, "mark": "line",
    "encoding": {"x": {"field": "w", "type": "quantitative"}, "y": {"field": "v", "type": "quantitative"}, "color": {"field": "s", "type": "nominal"}}},
   {"data": {"values": [{}]}, "mark": {"type": "rule", "color": "#000", "strokeWidth": 1}, "encoding": {"y": {"datum": 60, "type": "quantitative"}}}
  ]
 },
 {
  "title": "(c) S-PROG",
  "width": 507, "height": 380,
  "layer": [
   {"data": {"name": "fc"}, "transform": [{"filter": "datum.p == 'c'"}], "mark": "line",
    "encoding": {
     "x": {"field": "w", "type": "quantitative", "scale": {"type": "log", "base": 2, "domain": [1.58, 1712], "nice": false, "reverse": true}, "axis": {"values": [1024,512,256,128,64,32,16,8,4,2], "format": "d", "title": "Wavelength [km]"}},
     "y": {"field": "v", "type": "quantitative", "scale": {"domain": [-30, 60], "nice": false}, "axis": {"values": [-30,-20,-10,0,10,20,30,40,50,60], "title": "Power [10log₁₀(dBR²/km)]"}},
     "color": {"field": "s", "type": "nominal", "scale": {"domain": ["Observations","+5 min","+15 min","+30 min","+60 min","+120 min"], "range": ["#000000","#08306b","#0b559f","#2b7bba","#539ecd","#a6cde6"]}}
    }},
   {"data": {"name": "obs"}, "mark": "line",
    "encoding": {"x": {"field": "w", "type": "quantitative"}, "y": {"field": "v", "type": "quantitative"}, "color": {"field": "s", "type": "nominal"}}},
   {"data": {"values": [{}]}, "mark": {"type": "rule", "color": "#000", "strokeWidth": 1}, "encoding": {"y": {"datum": 60, "type": "quantitative"}}}
  ]
 }
]
}
